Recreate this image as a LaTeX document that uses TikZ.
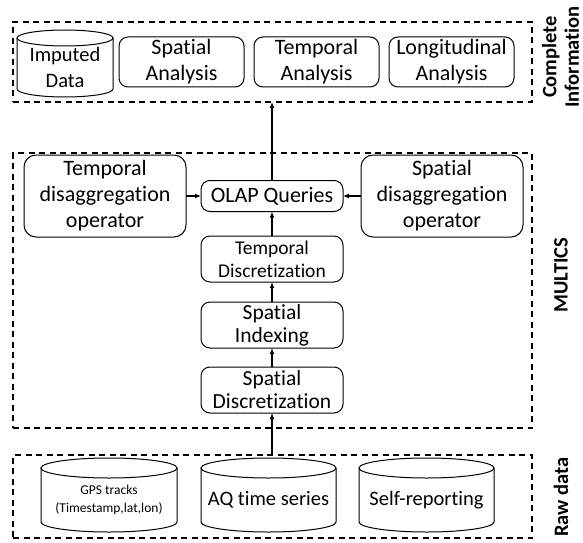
\documentclass[tikz,border=0pt]{standalone}
\usepackage{fontspec}
\setmainfont{Carlito}[Ligatures=NoCommon]
\usetikzlibrary{arrows.meta}

% database drum around a node: #1 node name, #2 x radius, #3 y radius
\newcommand\dbdrum[3]{%
  \draw[outline] (#1.north west) -- ([yshift=#3]#1.south west)
    arc[start angle=180, end angle=360, x radius=#2, y radius=#3] -- (#1.north east);
  \draw[outline] (#1.north) ellipse[x radius=#2, y radius=#3];}

\begin{document}
\begin{tikzpicture}[x=1pt, y=1pt,
  every node/.style={inner sep=0pt, outer sep=0pt},
  outline/.style={line width=1pt},
  group/.style={draw, dash pattern=on 6pt off 4.5pt, line width=1.2pt, minimum width=519pt},
  stepbox/.style={draw, rounded corners=9pt, line width=1pt, fill=white, align=center},
  store/.style={align=center},
  lab/.style={rotate=90, align=center, font=\bfseries\fontsize{20.5}{22.5}\selectfont},
  arr/.style={-{Latex[length=6pt, width=5pt]}, line width=1.2pt},
  f22/.style={font=\fontsize{22}{26}\selectfont},
  f21/.style={font=\fontsize{21.5}{23}\selectfont},
  f20/.style={font=\fontsize{20.5}{26}\selectfont},
  f19/.style={font=\fontsize{19.5}{23}\selectfont},
  f13/.style={font=\fontsize{13.5}{18}\selectfont}]

\useasboundingbox (0,0) rectangle (583,542);

% the three dashed layers
\node[group, minimum height=80pt]  (complete) at (272.5,480)   {};
\node[group, minimum height=275pt] (multics)  at (272.5,251.5) {};
\node[group, minimum height=83pt]  (raw)      at (272.5,45.5)  {};

% complete information layer
\node[store, f20, minimum width=96pt, minimum height=59pt] (imputed) at (65,474.5) {Imputed\\Data};
\dbdrum{imputed}{48pt}{8pt}
\node[stepbox, f22, minimum width=125pt, minimum height=50pt] (spa) at (181.5,480) {Spatial\\Analysis};
\node[stepbox, f22, minimum width=125pt, minimum height=50pt] (tpa) at (316.5,480) {Temporal\\Analysis};
\node[stepbox, f22, minimum width=125pt, minimum height=50pt] (lga) at (451.5,480) {Longitudinal\\Analysis};

% MULTICS layer
\node[stepbox, f22, minimum width=162pt, minimum height=82pt, rounded corners=12pt] (tdop) at (105,346)
  {Temporal\\disaggregation\\operator};
\node[stepbox, f22, minimum width=142pt, minimum height=31pt] (olap) at (272,346) {OLAP Queries};
\node[stepbox, f22, minimum width=162pt, minimum height=82pt, rounded corners=12pt] (sdop) at (442,346)
  {Spatial\\disaggregation\\operator};
\node[stepbox, f19, minimum width=142pt, minimum height=46pt] (tdisc) at (272,283) {Temporal\\Discretization};
\node[stepbox, f21, minimum width=142pt, minimum height=46pt] (sidx)  at (272,217) {Spatial\\Indexing};
\node[stepbox, f21, minimum width=142pt, minimum height=46pt] (sdisc) at (272,152) {Spatial\\Discretization};

% raw data layer
\node[store, f13, minimum width=136pt, minimum height=64pt] (gps) at (109,42) {GPS tracks\\(Timestamp,lat,lon)};
\dbdrum{gps}{68pt}{10pt}
\node[store, f20, minimum width=135pt, minimum height=64pt] (aq) at (268.5,42) {AQ time series};
\dbdrum{aq}{67.5pt}{10pt}
\node[store, f20, minimum width=135pt, minimum height=64pt] (self) at (426.5,42) {Self-reporting};
\dbdrum{self}{67.5pt}{10pt}

% data flow
\draw[arr] (raw.north -| sdisc.south) -- (sdisc.south);
\draw[arr] (sdisc.north) -- (sidx.south);
\draw[arr] (sidx.north) -- (tdisc.south);
\draw[arr] (tdisc.north) -- (olap.south);
\draw[arr] (tdop.east) -- (olap.west);
\draw[arr] (sdop.west) -- (olap.east);
\draw[arr] (olap.north) -- (olap.north |- complete.south);

% layer labels
\node[lab] (lcomplete) at (560.5,485) {Complete\\Information};
\node[lab] (lmultics)  at (561,267)   {MULTICS};
\node[lab] (lraw)      at (561,45)    {Raw data};
\end{tikzpicture}
\end{document}
